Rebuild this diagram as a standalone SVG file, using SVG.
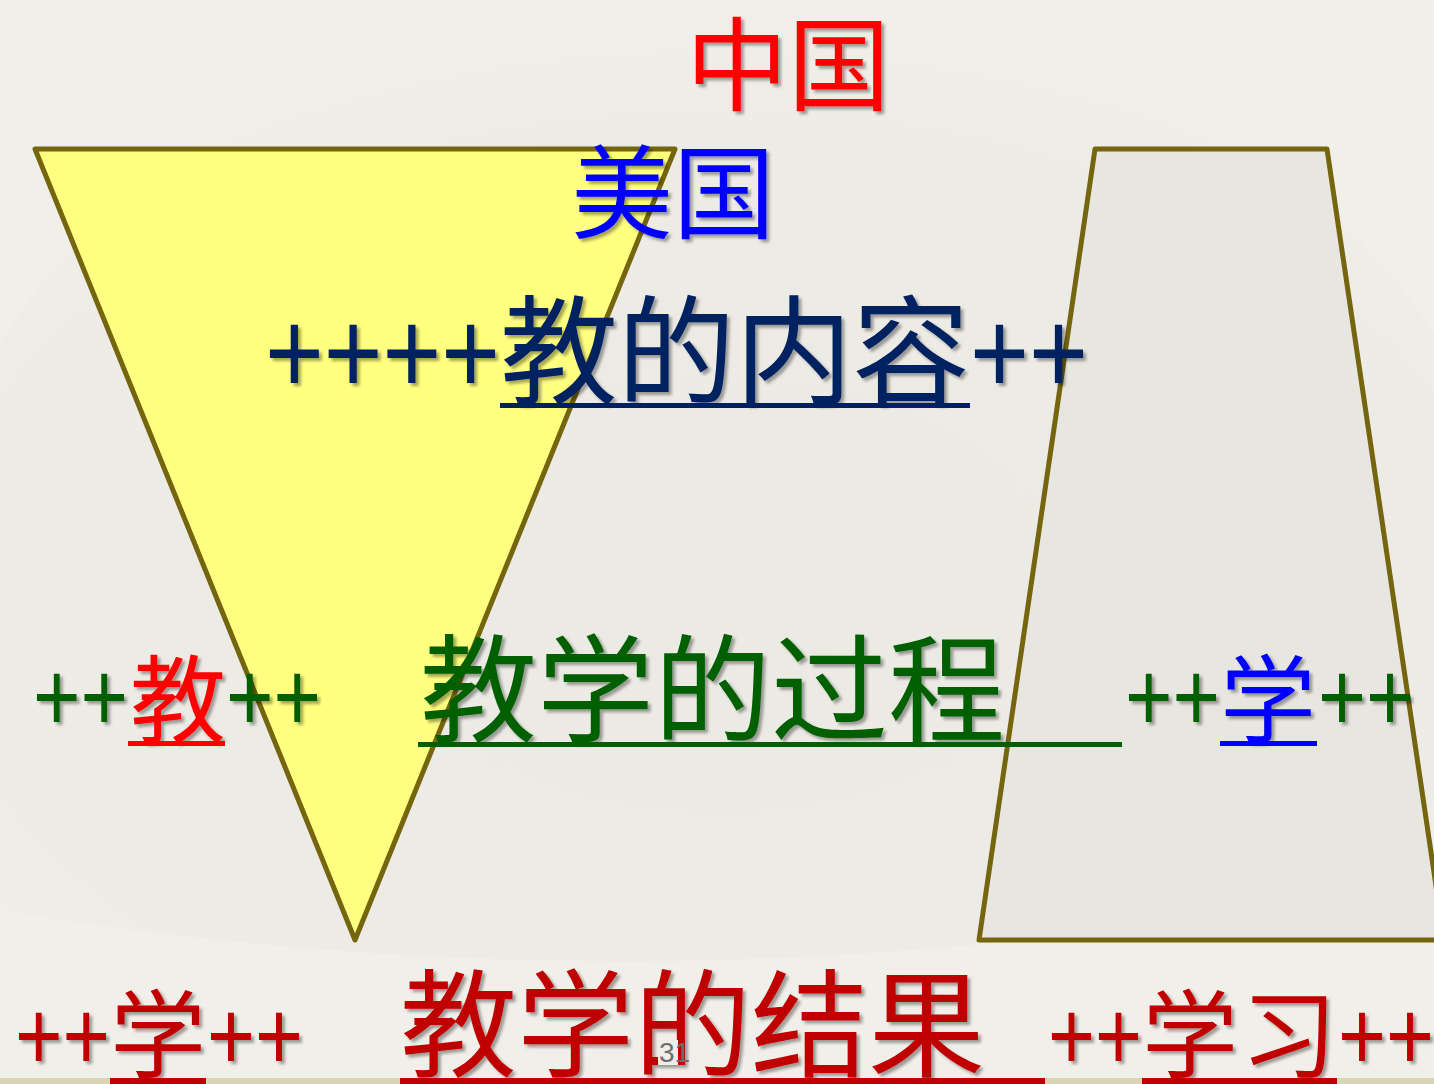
<svg xmlns="http://www.w3.org/2000/svg" width="1434" height="1084" viewBox="0 0 1434 1084">
<defs>
<filter id="sh" x="-10%" y="-10%" width="130%" height="130%">
<feDropShadow dx="3" dy="3" stdDeviation="1.5" flood-color="#000" flood-opacity="0.35"/>
</filter>
<radialGradient id="fan" cx="0.5" cy="0.62" r="0.6">
<stop offset="0" stop-color="#E4E3DC"/>
<stop offset="0.8" stop-color="#E8E7E0"/>
<stop offset="1" stop-color="#EFEEE8"/>
</radialGradient>
</defs>
<style>
.t{font-family:"Noto Sans CJK SC","Noto Sans",sans-serif;filter:url(#sh)}
.p{font-family:"Liberation Sans",Arial,sans-serif;filter:url(#sh)}
.shape{stroke:#75650F;stroke-width:5;stroke-linejoin:round}
</style>
<g id="background">
<rect width="1434" height="1084" fill="#F0EFE9"/>
<path d="M-60 560 A780 560 0 0 1 1500 560 L1500 860 Q717 1040 -60 900 Z" fill="url(#fan)" opacity="0.45"/>
<rect x="0" y="1078" width="1434" height="6" fill="#D9D4B4"/>
</g>
<g id="triangle">
<polygon class="shape" points="35,149 675,149 355,940" fill="#FFFF80"/>
</g>
<g id="trapezoid">
<polygon class="shape" points="1095,149 1327,149 1444,940 979,940" fill="#E8E6E0"/>
</g>
<g id="label-china">
<text class="t" x="686" y="103" font-size="102" fill="#FF0000">中国</text>
</g>
<g id="label-usa">
<text class="t" x="571" y="231" font-size="102" fill="#0000FF">美国</text>
</g>
<g id="row-content">
<text class="p" x="265" y="393" font-size="118" fill="#002060" textLength="235" lengthAdjust="spacingAndGlyphs">++++</text>
<text class="t" x="500" y="395" font-size="118" fill="#002060" textLength="470" lengthAdjust="spacing">教的内容</text>
<text class="p" x="970" y="393" font-size="118" fill="#002060" textLength="118" lengthAdjust="spacingAndGlyphs">++</text>
<rect x="500" y="403" width="470" height="5" fill="#002060"/>
</g>
<g id="row-process">
<text class="p" x="33" y="731" font-size="98" fill="#006000" textLength="95" lengthAdjust="spacingAndGlyphs">++</text>
<text class="t" x="130" y="735" font-size="96" fill="#FF0000">教</text>
<rect x="128" y="741" width="97" height="5" fill="#FF0000"/>
<text class="p" x="226" y="731" font-size="98" fill="#006000" textLength="95" lengthAdjust="spacingAndGlyphs">++</text>
<text class="t" x="420" y="733" font-size="117" fill="#006000" textLength="585" lengthAdjust="spacing">教学的过程</text>
<rect x="418" y="742" width="704" height="5" fill="#006000"/>
<text class="p" x="1125" y="731" font-size="98" fill="#006000" textLength="95" lengthAdjust="spacingAndGlyphs">++</text>
<text class="t" x="1220" y="735" font-size="96" fill="#0000FF">学</text>
<rect x="1220" y="741" width="97" height="5" fill="#0000FF"/>
<text class="p" x="1318" y="731" font-size="98" fill="#006000" textLength="96" lengthAdjust="spacingAndGlyphs">++</text>
</g>
<g id="row-result">
<text class="p" x="15" y="1070" font-size="98" fill="#C00000" textLength="95" lengthAdjust="spacingAndGlyphs">++</text>
<text class="t" x="110" y="1070" font-size="96" fill="#C00000">学</text>
<rect x="110" y="1078" width="96" height="6" fill="#C00000"/>
<text class="p" x="207" y="1070" font-size="98" fill="#C00000" textLength="96" lengthAdjust="spacingAndGlyphs">++</text>
<text class="t" x="400" y="1068" font-size="117" fill="#C00000" textLength="585" lengthAdjust="spacing">教学的结果</text>
<rect x="400" y="1078" width="645" height="6" fill="#C00000"/>
<text class="p" x="1048" y="1070" font-size="98" fill="#C00000" textLength="94" lengthAdjust="spacingAndGlyphs">++</text>
<text class="t" x="1142" y="1070" font-size="96" fill="#C00000" textLength="195" lengthAdjust="spacing">学习</text>
<rect x="1142" y="1078" width="195" height="6" fill="#C00000"/>
<text class="p" x="1338" y="1070" font-size="98" fill="#C00000" textLength="96" lengthAdjust="spacingAndGlyphs">++</text>
</g>
<g id="slide-number">
<rect x="658" y="1040" width="20" height="25" fill="#EEEDE8"/>
<text x="659" y="1062" font-family="Liberation Sans, sans-serif" font-size="28" fill="#6E6E6E">31</text>
</g>
</svg>
